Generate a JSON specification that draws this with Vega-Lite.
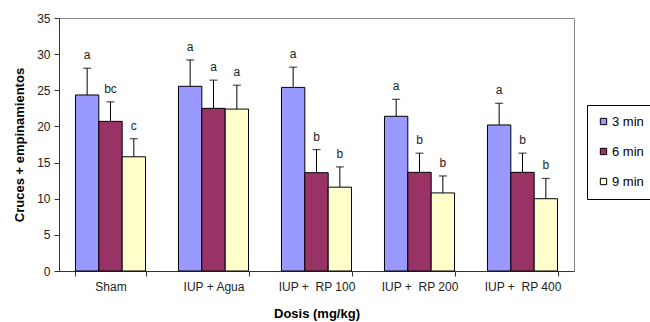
{
  "$schema": "https://vega.github.io/schema/vega-lite/v6.json",
  "width": 515,
  "height": 253,
  "autosize": {"type": "none"},
  "padding": {"left": 59, "top": 18, "right": 76, "bottom": 51},
  "background": "white",
  "config": {
    "font": "Liberation Sans",
    "view": {"stroke": "#8a8a8a", "strokeWidth": 1},
    "axisY": {
      "titleFont": "Liberation Sans",
      "titleFontSize": 13,
      "titleFontWeight": "bold",
      "titleColor": "black",
      "titlePadding": 10,
      "labelOverlap": false,
      "labelFontSize": 12,
      "labelColor": "#222222",
      "labelPadding": 4,
      "domainColor": "#333333",
      "tickColor": "#333333",
      "tickSize": 5,
      "grid": false
    }
  },
  "data": {
    "values": [
      {"grupo": "Sham", "tiempo": "3 min", "media": 24.35, "sup": 28.05, "letra": "a"},
      {"grupo": "Sham", "tiempo": "6 min", "media": 20.7, "sup": 23.4, "letra": "bc"},
      {"grupo": "Sham", "tiempo": "9 min", "media": 15.8, "sup": 18.3, "letra": "c"},
      {"grupo": "IUP + Agua", "tiempo": "3 min", "media": 25.55, "sup": 29.2, "letra": "a"},
      {"grupo": "IUP + Agua", "tiempo": "6 min", "media": 22.5, "sup": 26.4, "letra": "a"},
      {"grupo": "IUP + Agua", "tiempo": "9 min", "media": 22.4, "sup": 25.7, "letra": "a"},
      {"grupo": "IUP + \u00a0RP 100", "tiempo": "3 min", "media": 25.4, "sup": 28.2, "letra": "a"},
      {"grupo": "IUP + \u00a0RP 100", "tiempo": "6 min", "media": 13.6, "sup": 16.8, "letra": "b"},
      {"grupo": "IUP + \u00a0RP 100", "tiempo": "9 min", "media": 11.6, "sup": 14.4, "letra": "b"},
      {"grupo": "IUP + \u00a0RP 200", "tiempo": "3 min", "media": 21.4, "sup": 23.75, "letra": "a"},
      {"grupo": "IUP + \u00a0RP 200", "tiempo": "6 min", "media": 13.65, "sup": 16.3, "letra": "b"},
      {"grupo": "IUP + \u00a0RP 200", "tiempo": "9 min", "media": 10.8, "sup": 13.15, "letra": "b"},
      {"grupo": "IUP + \u00a0RP 400", "tiempo": "3 min", "media": 20.2, "sup": 23.2, "letra": "a"},
      {"grupo": "IUP + \u00a0RP 400", "tiempo": "6 min", "media": 13.65, "sup": 16.3, "letra": "b"},
      {"grupo": "IUP + \u00a0RP 400", "tiempo": "9 min", "media": 10.0, "sup": 12.8, "letra": "b"}
    ]
  },
  "encoding": {
    "x": {
      "field": "grupo",
      "type": "nominal",
      "sort": null,
      "scale": {"paddingInner": 0.32, "paddingOuter": 0.16},
      "axis": {
        "title": "Dosis (mg/kg)",
        "titleFont": "Liberation Sans",
        "titleFontSize": 13,
        "titleFontWeight": "bold",
        "titleColor": "black",
        "titlePadding": 15,
        "labelAngle": 0,
        "labelFontSize": 12,
        "labelColor": "#222222",
        "labelPadding": 5,
        "domainColor": "#333333",
        "tickColor": "#333333",
        "tickSize": 5,
        "tickBand": "extent",
        "grid": false
      }
    },
    "xOffset": {"field": "tiempo", "type": "nominal", "scale": {"paddingInner": 0, "paddingOuter": 0}}
  },
  "layer": [
    {
      "mark": {"type": "bar", "stroke": "black", "strokeWidth": 1},
      "encoding": {
        "y": {
          "field": "media",
          "type": "quantitative",
          "scale": {"domain": [0, 35], "nice": false},
          "axis": {"title": "Cruces + empinamientos", "values": [0, 5, 10, 15, 20, 25, 30, 35]}
        },
        "color": {
          "field": "tiempo",
          "type": "nominal",
          "scale": {"domain": ["3 min", "6 min", "9 min"], "range": ["#9999FF", "#993366", "#FFFFCC"]},
          "legend": {
            "title": null,
            "orient": "none",
            "legendX": 528,
            "legendY": 87,
            "strokeColor": "black",
            "fillColor": "white",
            "padding": 10,
            "symbolType": "square",
            "symbolSize": 40,
            "symbolStrokeColor": "black",
            "symbolStrokeWidth": 1,
            "labelFontSize": 13,
            "labelColor": "black",
            "labelOffset": 2,
            "rowPadding": 16
          }
        }
      }
    },
    {
      "mark": {"type": "rule", "color": "black", "strokeWidth": 1},
      "encoding": {
        "y": {"field": "media", "type": "quantitative", "axis": {"title": "Cruces + empinamientos", "values": [0, 5, 10, 15, 20, 25, 30, 35]}},
        "y2": {"field": "sup"}
      }
    },
    {
      "mark": {"type": "tick", "color": "black", "orient": "horizontal", "size": 8, "thickness": 1.2},
      "encoding": {
        "y": {"field": "sup", "type": "quantitative", "axis": {"title": "Cruces + empinamientos", "values": [0, 5, 10, 15, 20, 25, 30, 35]}}
      }
    },
    {
      "mark": {"type": "text", "dy": -13, "fontSize": 12, "color": "#222222", "font": "Liberation Sans"},
      "encoding": {
        "y": {"field": "sup", "type": "quantitative", "axis": {"title": "Cruces + empinamientos", "values": [0, 5, 10, 15, 20, 25, 30, 35]}},
        "text": {"field": "letra"}
      }
    }
  ]
}
